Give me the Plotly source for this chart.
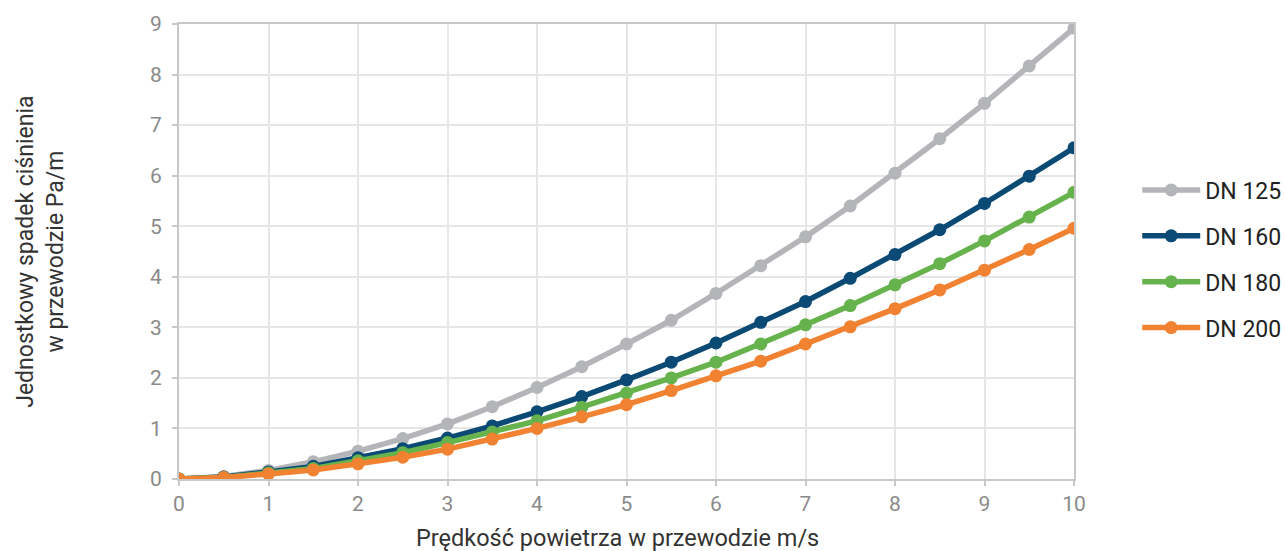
import plotly.graph_objects as go

velocity = [0, 0.5, 1, 1.5, 2, 2.5, 3, 3.5, 4, 4.5, 5, 5.5, 6, 6.5, 7, 7.5, 8, 8.5, 9, 9.5, 10]
dn125 = [0, 0.05, 0.17, 0.34, 0.55, 0.8, 1.09, 1.43, 1.81, 2.22, 2.67, 3.14, 3.67, 4.22, 4.79, 5.4, 6.05, 6.73, 7.43, 8.17, 8.92]
dn160 = [0, 0.04, 0.14, 0.25, 0.42, 0.6, 0.81, 1.05, 1.33, 1.63, 1.96, 2.31, 2.69, 3.1, 3.51, 3.97, 4.44, 4.93, 5.45, 5.99, 6.55]
dn180 = [0, 0.03, 0.12, 0.21, 0.36, 0.52, 0.72, 0.93, 1.15, 1.42, 1.7, 2.0, 2.31, 2.67, 3.05, 3.43, 3.84, 4.26, 4.71, 5.18, 5.67]
dn200 = [0, 0.03, 0.1, 0.18, 0.3, 0.43, 0.59, 0.79, 1.0, 1.23, 1.47, 1.75, 2.04, 2.33, 2.67, 3.01, 3.37, 3.74, 4.13, 4.54, 4.96]

series = [
    ("DN 125", dn125, "#b4b5b8"),
    ("DN 160", dn160, "#0b4a74"),
    ("DN 180", dn180, "#66b24c"),
    ("DN 200", dn200, "#f08232"),
]

fig = go.Figure()
for i, (name, vals, color) in enumerate(series):
    fig.add_trace(go.Scatter(
        x=velocity, y=vals, name=name, mode="lines+markers",
        line=dict(color=color, width=5.5),
        marker=dict(color=color, size=13),
        legendgroup=f"g{i}",
    ))

axis_common = dict(
    showgrid=True, gridcolor="#e6e6e6", gridwidth=2,
    showline=True, linecolor="#c8c8c8", linewidth=2, mirror=True,
    ticks="outside", ticklen=5, tickcolor="#c8c8c8", tickwidth=2,
    tickfont=dict(size=21, color="#8a8a8a"), zeroline=False,
)

fig.update_layout(
    width=1285, height=551,
    margin=dict(l=179, r=211, t=20, b=72),
    paper_bgcolor="white", plot_bgcolor="white",
    font=dict(family="Roboto", size=20, color="#8a8a8a"),
    showlegend=True,
    legend=dict(
        xref="container", yref="container",
        x=0.885, y=0.53, xanchor="left", yanchor="middle",
        font=dict(size=23, color="#222222"),
        tracegroupgap=13, traceorder="grouped", itemwidth=58,
    ),
    xaxis=dict(range=[0, 10], dtick=1, **axis_common),
    yaxis=dict(range=[0, 9], dtick=1, ticklabelstandoff=6, **axis_common),
    annotations=[
        dict(text="Jednostkowy spadek ciśnienia<br>w przewodzie Pa/m",
             xref="paper", yref="paper", x=-0.155, y=0.5,
             xanchor="center", yanchor="middle", textangle=-90, showarrow=False,
             font=dict(size=23, color="#333333")),
        dict(text="Prędkość powietrza w przewodzie m/s",
             xref="paper", yref="paper", x=0.49, y=-0.129,
             xanchor="center", yanchor="middle", showarrow=False,
             font=dict(size=23.5, color="#333333")),
    ],
)

fig.write_html("out.html", config={"displayModeBar": False},
               post_script="document.body.style.margin='0';document.body.style.overflow='hidden';")
